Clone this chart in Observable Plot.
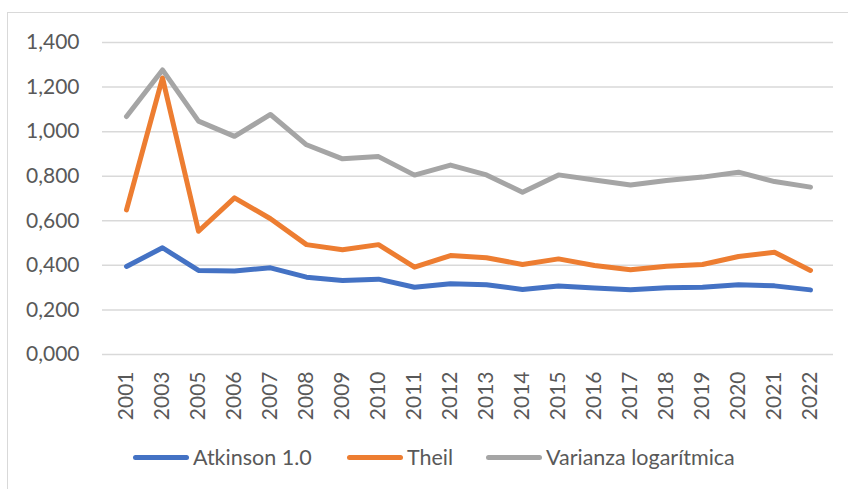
<!DOCTYPE html>
<html>
<head>
<meta charset="utf-8">
<script src="https://cdn.jsdelivr.net/npm/d3@7"></script>
<script src="https://cdn.jsdelivr.net/npm/@observablehq/plot@0.6"></script>
<style>
  html, body { margin: 0; padding: 0; background: #fff; overflow: hidden; width: 848px; height: 489px; }
  #wrap { position: relative; width: 848px; height: 489px; font-family: Lato, "Liberation Sans", sans-serif; }
  #frame { position: absolute; left: 7px; top: 12px; width: 900px; height: 600px; border: 1.5px solid #d9d9d9; box-sizing: border-box; pointer-events: none; }
  #chart svg { display: block; }
  #legend { display: flex; align-items: center; height: 34px; padding-left: 133px; color: #595959; font-size: 21.5px; font-family: Lato, "Liberation Sans", sans-serif; }
  .item { display: flex; align-items: center; }
  .item:nth-child(1) { width: 214px; }
  .item:nth-child(2) { width: 139px; }
  .sw { width: 56px; height: 5px; border-radius: 3px; margin-right: 4px; }
</style>
</head>
<body>
<div id="wrap">
  <div id="frame"></div>
  <div id="chart"></div>
  <div id="legend"></div>
</div>
<script>
const years = ["2001","2003","2005","2006","2007","2008","2009","2010","2011","2012","2013","2014","2015","2016","2017","2018","2019","2020","2021","2022"];
const seriesNames = ["Atkinson 1.0", "Theil", "Varianza logarítmica"];
const seriesColors = ["#4472C4", "#ED7D31", "#A5A5A5"];
const atkinson = [0.395,0.479,0.377,0.375,0.389,0.347,0.332,0.338,0.302,0.317,0.313,0.292,0.307,0.298,0.290,0.299,0.302,0.313,0.308,0.290];
const theil = [0.649,1.241,0.553,0.703,0.609,0.493,0.470,0.493,0.392,0.444,0.434,0.404,0.429,0.399,0.380,0.396,0.404,0.440,0.459,0.377];
const varianza = [1.068,1.277,1.047,0.979,1.077,0.941,0.878,0.888,0.805,0.850,0.806,0.728,0.806,0.783,0.761,0.781,0.796,0.818,0.776,0.751];
const yTicks = [0, 0.2, 0.4, 0.6, 0.8, 1.0, 1.2, 1.4];

const seriesValues = [atkinson, theil, varianza];
const data = [];
seriesNames.forEach((name, i) => {
  years.forEach((yr, j) => data.push({ year: yr, value: seriesValues[i][j], series: name }));
});

const fmtY = d => d3.format(".3f")(d).replace(".", ",");

const chart = Plot.plot({
  width: 848,
  height: 440,
  marginTop: 42,
  marginBottom: 86,
  marginLeft: 102,
  marginRight: 15,
  style: { fontFamily: "Lato, 'Liberation Sans', sans-serif", fontSize: "21px", color: "#595959", background: "transparent" },
  x: { type: "point", domain: years, padding: 0.5, label: null },
  y: { domain: [0, 1.4], label: null },
  color: { domain: seriesNames, range: seriesColors },
  marks: [
    Plot.gridY(yTicks, { stroke: "#d9d9d9", strokeOpacity: 1, strokeWidth: 1.5 }),
    Plot.axisY(yTicks, { tickSize: 0, tickPadding: 23, tickFormat: fmtY, fill: "#595959", fontSize: 21 }),
    Plot.axisX({ tickSize: 0, tickPadding: 17, tickRotate: -90, fill: "#595959", fontSize: 21 }),
    Plot.line(data, { x: "year", y: "value", z: "series", stroke: "series", strokeWidth: 5, strokeLinejoin: "round", strokeLinecap: "round" })
  ]
});
document.getElementById("chart").appendChild(chart);

const legend = document.getElementById("legend");
seriesNames.forEach((name, i) => {
  const item = document.createElement("div");
  item.className = "item";
  const sw = document.createElement("div");
  sw.className = "sw";
  sw.style.background = seriesColors[i];
  const t = document.createElement("span");
  t.textContent = name;
  item.appendChild(sw);
  item.appendChild(t);
  legend.appendChild(item);
});
</script>
</body>
</html>
